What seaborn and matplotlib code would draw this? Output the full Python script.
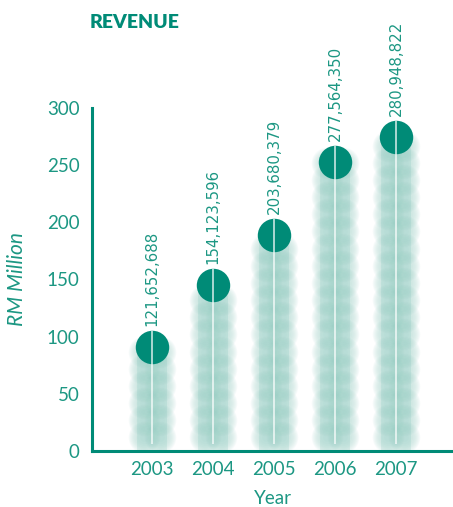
import numpy as np
import pandas as pd
import seaborn as sns
import matplotlib.pyplot as plt

# data
years = ["2003", "2004", "2005", "2006", "2007"]
revenue_rm_million = [91, 145, 189, 253, 275]  # dot height on the RM Million axis
revenue_labels = ["121,652,688", "154,123,596", "203,680,379", "277,564,350", "280,948,822"]

teal = "#008b77"
text_teal = "#1c9783"

sns.set_theme(style="white")
plt.rcParams["font.family"] = ["Lato", "DejaVu Sans"]

df = pd.DataFrame({"year": years, "value": revenue_rm_million})

fig = plt.figure(figsize=(4.53, 5.07), dpi=100)
ax = fig.add_axes([92 / 453, 56 / 507, 1 - 92 / 453, 343 / 507])

# faint base column
sns.barplot(data=df, x="year", y="value", color="#e8f4f1", width=0.5,
            saturation=1, ax=ax, zorder=1)
for p in ax.patches:
    p.set_edgecolor("none")

# blotchy column texture: soft blobs built from many faint layers
sizes = np.linspace(520, 40, 10)
for i, v in enumerate(revenue_rm_million):
    ys = np.arange(12, v, 15)
    for dx in (-0.13, 0.13):
        xs = np.full(len(ys), i + dx)
        for s in sizes:
            ax.scatter(xs, ys, s=s, color="#84c8bb", alpha=0.055, lw=0, zorder=2)

# dots at the top of each column
sns.scatterplot(data=df, x="year", y="value", s=580, color=teal, linewidth=0,
                ax=ax, zorder=4, legend=False)

# thin white line through each column
ax.vlines(range(len(years)), 6, np.array(revenue_rm_million) + 14, color="white",
          lw=1.1, alpha=0.85, zorder=5)

# rotated value labels above the dots
for i, (v, lab) in enumerate(zip(revenue_rm_million, revenue_labels)):
    ax.annotate(lab, (i, v), xytext=(0, 15), textcoords="offset points",
                rotation=90, ha="center", va="bottom", fontsize=10.8,
                color=text_teal, family="DejaVu Sans", annotation_clip=False)

ax.set_ylim(0, 300)
ax.set_xlim(-60 / 61, 301 / 61)
ax.set_yticks(range(0, 301, 50))

for side in ("top", "right"):
    ax.spines[side].set_visible(False)
for side in ("left", "bottom"):
    ax.spines[side].set_color(teal)
    ax.spines[side].set_linewidth(2.2)

ax.tick_params(axis="both", direction="in", length=8, width=2.2, color=teal,
               labelcolor=text_teal, labelsize=13.5)
ax.tick_params(axis="y", pad=9)
ax.tick_params(axis="x", pad=7)

ax.set_xlabel("Year", fontsize=13.5, color=text_teal, labelpad=9)
ax.set_ylabel("RM Million", fontsize=15, color=text_teal, style="italic", labelpad=14)

fig.text(90 / 453, 1 - 22 / 507, "REVENUE", fontsize=14, fontweight="heavy",
         color=teal, va="center", ha="left")

fig.savefig("out.png", dpi=100)
